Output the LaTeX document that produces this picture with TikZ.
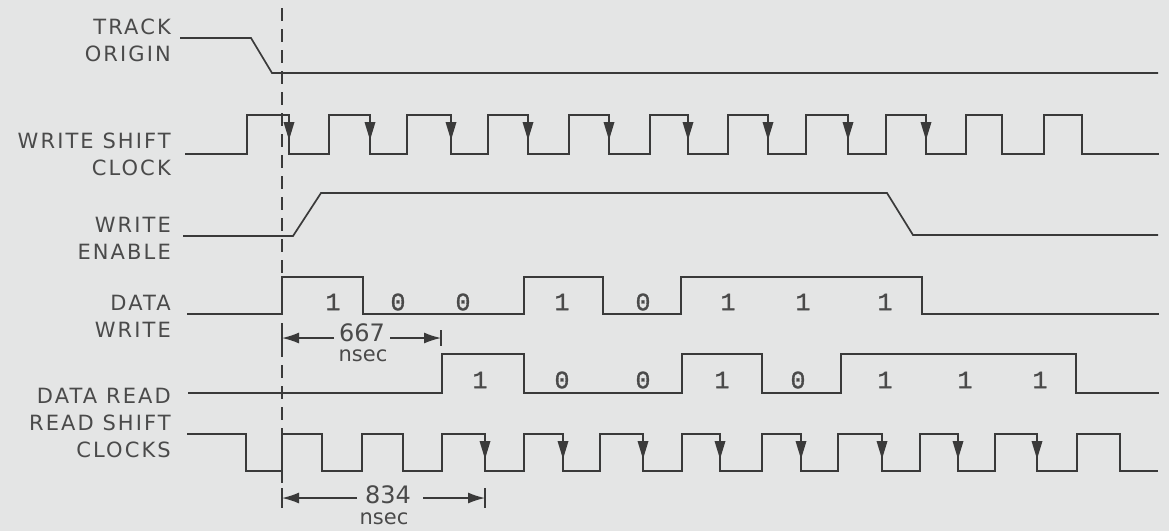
\documentclass[tikz,border=0pt]{standalone}
\usepackage{fontspec}
\setmainfont{DejaVu Sans}[LetterSpace=10]
\newfontfamily\dimfont{DejaVu Sans}
\newfontfamily\digfont{Liberation Mono}[FakeBold=1.2]
\usetikzlibrary{arrows.meta}
\definecolor{bg}{HTML}{E4E5E5}
\definecolor{ink}{HTML}{3A3A3A}
\definecolor{txt}{HTML}{4A4A4A}
\tikzset{
  wave/.style={draw=ink, line width=1.7pt, line join=miter},
  lbl/.style={anchor=east, text=txt, font=\fontsize{21}{27}\selectfont, align=right, inner sep=0pt},
  bit/.style={text=txt, font=\digfont\fontsize{25}{25}\selectfont, inner sep=0pt},
  dimtxt/.style={text=txt, font=\dimfont\fontsize{24}{24}\selectfont, inner sep=0pt},
  nstxt/.style={text=txt, font=\dimfont\fontsize{21}{21}\selectfont, inner sep=0pt},
  dimarrow/.style={draw=ink, line width=1.5pt, -{Latex[length=17pt,width=11pt]}},
  dimbar/.style={draw=ink, line width=1.5pt},
  dashline/.style={draw=ink, line width=1.3pt, dash pattern=on 13pt off 8pt},
  clkarrow/.style={fill=ink}
}
\begin{document}
\begin{tikzpicture}[x=1pt,y=-1pt]
\useasboundingbox (0,0) rectangle (1169,531);
\fill[bg] (0,0) rectangle (1169,531);

% labels
\node[lbl] (lto) at (171,40) {TRACK\\ORIGIN};
\node[lbl] (lwsc) at (171,154.5) {WRITE SHIFT\\CLOCK};
\node[lbl] (lwe) at (171,238.5) {WRITE\\ENABLE};
\node[lbl] (ldw) at (171,316) {DATA\\WRITE};
\node[lbl] (ldr) at (171,396) {DATA READ};
\node[lbl] (lrsc) at (171,436) {READ SHIFT\\CLOCKS};

% dashed reference line
\coordinate (dtop) at (282,8);
\coordinate (dbot) at (282,507);
\draw[dashline] (dtop) -- (dbot);

% TRACK ORIGIN
\draw[wave] (180,38) -- (251,38) -- (272,73) -- (1158,73);

% WRITE SHIFT CLOCK
\draw[wave] (185,154) -- (247,154) -- (247,115) -- (289,115) -- (289,154)
  -- (329,154) -- (329,115) -- (370,115) -- (370,154)
  -- (407,154) -- (407,115) -- (451,115) -- (451,154)
  -- (488,154) -- (488,115) -- (528,115) -- (528,154)
  -- (569,154) -- (569,115) -- (609,115) -- (609,154)
  -- (650,154) -- (650,115) -- (688,115) -- (688,154)
  -- (728,154) -- (728,115) -- (768,115) -- (768,154)
  -- (806,154) -- (806,115) -- (848,115) -- (848,154)
  -- (886,154) -- (886,115) -- (926,115) -- (926,154)
  -- (966,154) -- (966,115) -- (1002,115) -- (1002,154)
  -- (1044,154) -- (1044,115) -- (1082,115) -- (1082,154)
  -- (1159,154);
\foreach \x in {289,370,451,528,609,688,768,848,926}
  \fill[clkarrow] (\x-5.5,122) -- (\x+5.5,122) -- (\x,140) -- cycle;

% WRITE ENABLE
\draw[wave] (183,236) -- (293,236) -- (321,193) -- (887,193) -- (913,235) -- (1158,235);

% DATA WRITE
\draw[wave] (187,314) -- (282,314) -- (282,277) -- (363,277) -- (363,314)
  -- (524,314) -- (524,277) -- (603,277) -- (603,314)
  -- (681,314) -- (681,277) -- (922,277) -- (922,314) -- (1159,314);
\node[bit] (w1) at (333,302) {1};
\node[bit] (w2) at (398,302) {0};
\node[bit] (w3) at (463,302) {0};
\node[bit] (w4) at (562,302) {1};
\node[bit] (w5) at (643,302) {0};
\node[bit] (w6) at (728,302) {1};
\node[bit] (w7) at (803,302) {1};
\node[bit] (w8) at (885,302) {1};

% 667 nsec
\coordinate (a1L) at (282,338);
\coordinate (a1R) at (441,338);
\coordinate (a1Ls) at (334,338);
\coordinate (a1Rs) at (390,338);
\draw[dimbar] (282,330) -- (282,346);
\draw[dimbar] (441,330) -- (441,346);
\draw[dimarrow] (a1Ls) -- (a1L);
\draw[dimarrow] (a1Rs) -- (a1R);
\node[dimtxt] (t667) at (362,333) {667};
\node[nstxt, anchor=north] (n667) at (363,350) {nsec};

% DATA READ
\draw[wave] (188,393) -- (442,393) -- (442,354) -- (524,354) -- (524,393)
  -- (682,393) -- (682,354) -- (762,354) -- (762,393)
  -- (841,393) -- (841,354) -- (1076,354) -- (1076,393) -- (1159,393);
\node[bit] (r1) at (480,380) {1};
\node[bit] (r2) at (562,380) {0};
\node[bit] (r3) at (643,380) {0};
\node[bit] (r4) at (722,380) {1};
\node[bit] (r5) at (798,380) {0};
\node[bit] (r6) at (885,380) {1};
\node[bit] (r7) at (965,380) {1};
\node[bit] (r8) at (1040,380) {1};

% READ SHIFT CLOCKS
\draw[wave] (187,434) -- (246,434) -- (246,471) -- (282,471) -- (282,434)
  -- (322,434) -- (322,471) -- (362,471) -- (362,434)
  -- (403,434) -- (403,471) -- (442,471) -- (442,434)
  -- (485,434) -- (485,471) -- (524,471) -- (524,434)
  -- (563,434) -- (563,471) -- (600,471) -- (600,434)
  -- (643,434) -- (643,471) -- (682,471) -- (682,434)
  -- (720,434) -- (720,471) -- (762,471) -- (762,434)
  -- (801,434) -- (801,471) -- (838,471) -- (838,434)
  -- (882,434) -- (882,471) -- (920,471) -- (920,434)
  -- (958,434) -- (958,471) -- (995,471) -- (995,434)
  -- (1037,434) -- (1037,471) -- (1077,471) -- (1077,434)
  -- (1120,434) -- (1120,471) -- (1158,471);
\foreach \x in {485,563,643,720,801,882,958,1037}
  \fill[clkarrow] (\x-5.5,441) -- (\x+5.5,441) -- (\x,459) -- cycle;

% 834 nsec
\coordinate (a2L) at (282,498);
\coordinate (a2R) at (485,498);
\coordinate (a2Ls) at (357,498);
\coordinate (a2Rs) at (423,498);
\draw[dimbar] (282,488) -- (282,508);
\draw[dimbar] (485,488) -- (485,508);
\draw[dimarrow] (a2Ls) -- (a2L);
\draw[dimarrow] (a2Rs) -- (a2R);
\node[dimtxt] (t834) at (388,495) {834};
\node[nstxt, anchor=north] (n834) at (384,513) {nsec};
\end{tikzpicture}
\end{document}
